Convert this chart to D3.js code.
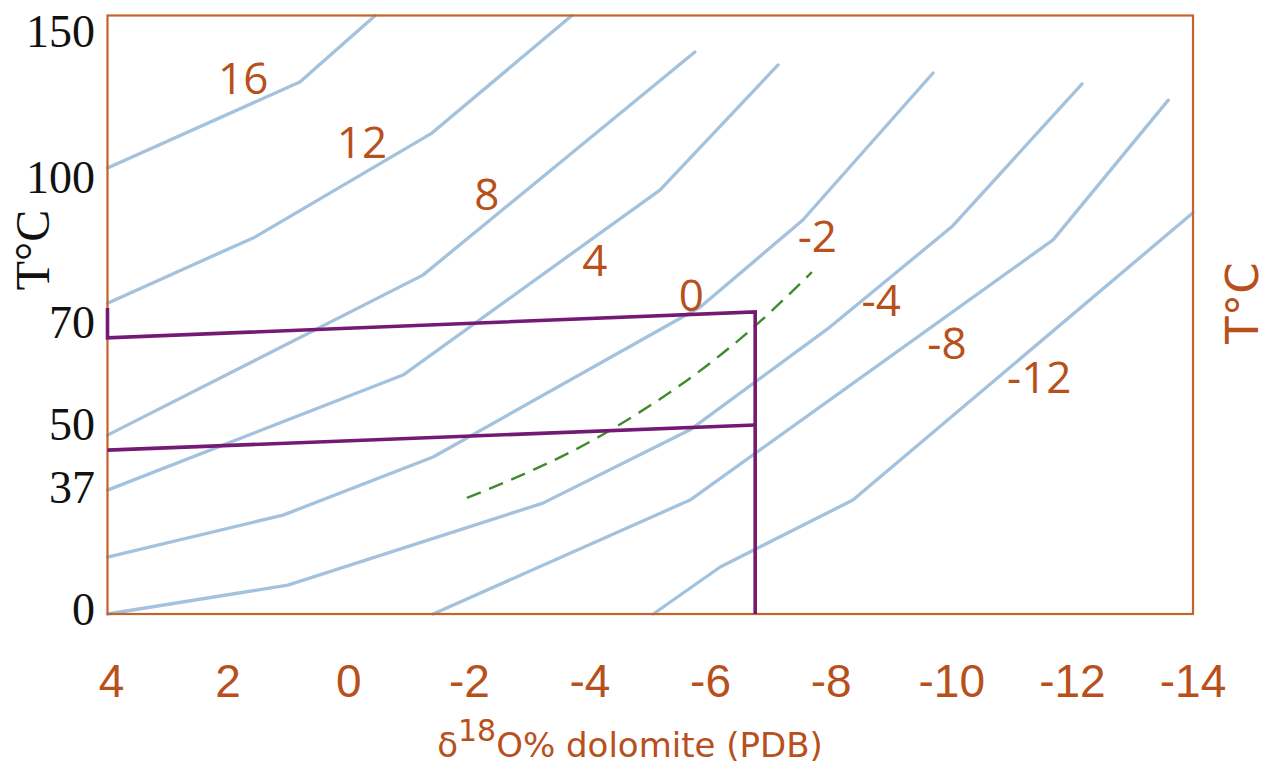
<!DOCTYPE html>
<html><head><meta charset="utf-8">
<script src="https://cdn.jsdelivr.net/npm/d3@7"></script>
<style>body{margin:0;background:#fff}svg{display:block}</style>
</head><body>
<svg id="chart" width="1270" height="767"></svg>
<script>
// ---------- data (δ18O dolomite ‰ PDB, T °C) ----------
const xTicks = [4, 2, 0, -2, -4, -6, -8, -10, -12, -14];
const yTicks = [0, 37, 50, 70, 100, 150];

// isolines of δ18O water (SMOW)
const curveNames = ["16", "12", "8", "4", "0", "-4", "-8", "-12"];
const line16  = [[4, 102.8], [0.81, 129.4], [-0.44, 150]];
const line12  = [[4, 73.9], [1.55, 87.6], [-1.38, 113.6], [-3.70, 150]];
const line8   = [[4, 47.7], [-1.23, 79.7], [-5.74, 138.7]];
const line4   = [[4, 36.1], [-0.90, 59.6], [-5.16, 97.3], [-7.12, 134.7]];
const line0   = [[4, 16.6], [1.09, 28.8], [-1.40, 43.2], [-5.83, 73.1], [-7.53, 91.1], [-9.69, 132.2]];
const lineM4  = [[4, 0], [1.01, 8.4], [-3.22, 32.3], [-5.66, 48.8], [-7.98, 69.0], [-10.00, 89.7], [-12.16, 128.8]];
const lineM8  = [[-1.40, 0], [-5.66, 33.2], [-11.68, 87.0], [-13.59, 123.8]];
const lineM12 = [[-5.05, 0], [-6.16, 13.7], [-8.36, 33.2], [-14, 92.6]];
const curves = [line16, line12, line8, line4, line0, lineM4, lineM8, lineM12];

// dashed -2 line
const lineM2dash = [[-1.96, 33.8], [-4.28, 48.3], [-6.66, 68.4], [-7.68, 80.3]];

// purple range lines
const purpleUpper = [[4, 72.9], [4, 66.9], [-6.74, 72.1], [-6.74, 0]];
const purpleLower = [[4, 44.6], [-6.74, 49.8]];

// isoline labels and their anchor (data units)
const labelText = ["16", "12", "8", "4", "0", "-2", "-4", "-8", "-12"];
const labelX    = [1.75, -0.22, -2.29, -4.08, -5.68, -7.77, -8.83, -9.92, -11.45];
const labelY    = [131.0, 111.1, 96.7, 83.0, 75.8, 88.0, 74.8, 66.1, 59.4];

// ---------- layout ----------
const L = 107.5, R = 1193, T = 15.5, B = 614;
const brown = "#b8501c", frameCol = "#c4632c", blue = "#a3c2dd",
      purple = "#741a74", green = "#3f8c2c";

const svg = d3.select("#chart");

const x = d3.scaleLinear().domain([4, -14]).range([L, R]);
// the printed temperature axis is not linear: piecewise through the labelled ticks
const y = d3.scaleLinear().domain(yTicks).range([B, 487, 424, 322, 177, T]);

const line = d3.line().x(d => x(d[0])).y(d => y(d[1]));

// isolines
svg.append("g").selectAll("path").data(curves).join("path")
  .attr("d", line)
  .attr("fill", "none").attr("stroke", blue).attr("stroke-width", 3.3)
  .attr("stroke-linejoin", "round").attr("stroke-linecap", "round");

// dashed -2
svg.append("path").datum(lineM2dash)
  .attr("d", d3.line().x(d => x(d[0])).y(d => y(d[1])).curve(d3.curveMonotoneX))
  .attr("fill", "none").attr("stroke", green).attr("stroke-width", 2.4)
  .attr("stroke-dasharray", "15,9");

// frame
svg.append("rect").attr("x", L).attr("y", T).attr("width", R - L).attr("height", B - T)
  .attr("fill", "none").attr("stroke", frameCol).attr("stroke-width", 2.2);

// purple
svg.append("g").selectAll("path").data([purpleUpper, purpleLower]).join("path")
  .attr("d", line).attr("fill", "none").attr("stroke", purple).attr("stroke-width", 3.6)
  .attr("stroke-linejoin", "miter");

// isoline labels
svg.append("g").selectAll("text").data(labelText).join("text")
  .attr("x", (d, i) => x(labelX[i])).attr("y", (d, i) => y(labelY[i]))
  .attr("text-anchor", "middle").attr("dominant-baseline", "central")
  .attr("font-family", "'Open Sans', 'DejaVu Sans', sans-serif").attr("font-size", 44)
  .attr("fill", brown).text(d => d);

// y tick labels (serif, black)
svg.append("g").selectAll("text").data(yTicks).join("text")
  .attr("x", 95)
  .attr("y", d => Math.max(T + 16, Math.min(B - 5, y(d))))
  .attr("text-anchor", "end").attr("dominant-baseline", "central")
  .attr("font-family", "'Liberation Serif', 'Times New Roman', serif").attr("font-size", 46)
  .attr("fill", "#111").text(d => d);

// x tick labels
svg.append("g").selectAll("text").data(xTicks).join("text")
  .attr("x", d => x(d) + (d === 4 ? 4 : 0)).attr("y", 697)
  .attr("text-anchor", "middle")
  .attr("font-family", "'Liberation Sans', Arial, sans-serif").attr("font-size", 46)
  .attr("fill", brown).text(d => d);

// left axis title
svg.append("text").attr("transform", "translate(49,250) rotate(-90)")
  .attr("text-anchor", "middle")
  .attr("font-family", "'Liberation Serif', 'Times New Roman', serif").attr("font-size", 48)
  .attr("fill", "#111").text("T°C");

// right axis title
svg.append("text").attr("transform", "translate(1258,303) rotate(-90)")
  .attr("text-anchor", "middle")
  .attr("font-family", "'DejaVu Sans', Verdana, sans-serif").attr("font-size", 45)
  .attr("fill", brown).text("T°C");

// x axis title
const xt = svg.append("text").attr("x", 630).attr("y", 757).attr("text-anchor", "middle")
  .attr("font-family", "'DejaVu Sans', Verdana, sans-serif").attr("font-size", 34)
  .attr("fill", brown);
xt.append("tspan").text("δ");
xt.append("tspan").attr("dy", -16).attr("font-size", 30).text("18");
xt.append("tspan").attr("dy", 16).text("O% dolomite (PDB)");
</script>
</body></html>
